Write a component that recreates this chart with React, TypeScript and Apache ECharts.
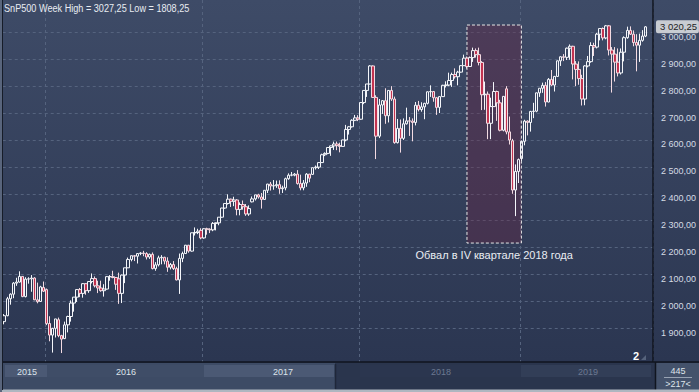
import React, { useEffect, useRef } from "react";
import * as echarts from "echarts";

// ---------- DATA ----------
const TITLE = "SnP500 Week High = 3027,25 Low = 1808,25";
const FIRST_WEEK_UTC = Date.UTC(2015, 8, 28); // Monday of the first weekly candle
const EXTRA_SLOTS = 2; // empty slots right of the last candle

// weekly candles: [open, high, low, close]
const w2015: number[][] = [
  [1925, 1953, 1915, 1947], [1947, 2017, 1945, 2010], [2010, 2030, 1988, 2027], [2027, 2072, 2012, 2068],
  [2068, 2088, 2058, 2072], [2072, 2112, 2070, 2093], [2093, 2094, 2016, 2018], [2018, 2090, 2015, 2083],
  [2083, 2090, 2066, 2084], [2084, 2098, 2036, 2087], [2087, 2090, 2005, 2006], [2006, 2070, 1993, 1999],
  [2000, 2058, 1998, 2054], [2052, 2074, 2035, 2038],
];
const w2016: number[][] = [
  [2044, 2048, 1912, 1918], [1918, 1945, 1852, 1875], [1875, 1902, 1810, 1900], [1900, 1935, 1866, 1935],
  [1932, 1940, 1867, 1873], [1873, 1876, 1808.25, 1860], [1862, 1925, 1860, 1913], [1913, 1947, 1885, 1944],
  [1944, 2004, 1925, 1994], [1994, 2016, 1962, 2016], [2016, 2046, 1998, 2044], [2044, 2050, 2016, 2030],
  [2030, 2068, 2014, 2066], [2066, 2068, 2025, 2040], [2040, 2076, 2032, 2074], [2074, 2104, 2067, 2085],
  [2085, 2093, 2052, 2058], [2058, 2077, 2031, 2050], [2050, 2077, 2036, 2040], [2040, 2064, 2018, 2046],
  [2046, 2094, 2044, 2092], [2092, 2098, 2077, 2092], [2092, 2114, 2086, 2089], [2089, 2089, 2043, 2064],
  [2084, 2107, 1991, 2030], [2030, 2100, 1994, 2098], [2098, 2125, 2068, 2125], [2125, 2163, 2124, 2156],
  [2156, 2170, 2149, 2170], [2170, 2172, 2150, 2168], [2168, 2178, 2141, 2178], [2178, 2183, 2172, 2180],
  [2180, 2188, 2168, 2178], [2178, 2183, 2156, 2165], [2165, 2178, 2158, 2175], [2175, 2182, 2119, 2122],
  [2122, 2146, 2114, 2136], [2136, 2170, 2130, 2162], [2162, 2172, 2138, 2164], [2164, 2166, 2138, 2150],
  [2150, 2164, 2110, 2127], [2127, 2143, 2119, 2137], [2137, 2150, 2117, 2122], [2122, 2129, 2078, 2080],
  [2080, 2178, 2028, 2160], [2160, 2185, 2146, 2178], [2178, 2210, 2177, 2209], [2209, 2210, 2181, 2187],
  [2187, 2256, 2185, 2255], [2255, 2275, 2245, 2256], [2256, 2270, 2250, 2261], [2264, 2272, 2231, 2236],
];
const w2017: number[][] = [
  [2236, 2272, 2233, 2270], [2270, 2274, 2248, 2268], [2268, 2272, 2254, 2266], [2266, 2295, 2261, 2290],
  [2290, 2293, 2264, 2292], [2292, 2313, 2283, 2313], [2313, 2348, 2311, 2347], [2347, 2364, 2344, 2364],
  [2364, 2398, 2360, 2380], [2380, 2382, 2351, 2372], [2372, 2389, 2354, 2377], [2377, 2380, 2320, 2342],
  [2342, 2368, 2320, 2360], [2360, 2375, 2341, 2352], [2352, 2362, 2318, 2325], [2325, 2357, 2318, 2345],
  [2370, 2390, 2368, 2381], [2381, 2396, 2375, 2396], [2396, 2400, 2382, 2388], [2388, 2403, 2345, 2379],
  [2379, 2413, 2377, 2413], [2413, 2437, 2403, 2436], [2436, 2444, 2412, 2429], [2429, 2451, 2415, 2430],
  [2430, 2449, 2422, 2434], [2434, 2450, 2400, 2419], [2419, 2430, 2403, 2422], [2422, 2460, 2413, 2456],
  [2456, 2476, 2452, 2469], [2469, 2481, 2465, 2470], [2469, 2477, 2465, 2473], [2473, 2488, 2434, 2438],
  [2438, 2471, 2413, 2422], [2422, 2451, 2413, 2440], [2440, 2477, 2426, 2473], [2473, 2474, 2443, 2458],
  [2472, 2497, 2470, 2497], [2497, 2505, 2490, 2499], [2499, 2516, 2492, 2516], [2516, 2549, 2515, 2545],
  [2545, 2554, 2540, 2550], [2550, 2572, 2547, 2572], [2572, 2579, 2541, 2578], [2578, 2594, 2563, 2585],
  [2585, 2594, 2562, 2579], [2579, 2590, 2554, 2576], [2576, 2601, 2575, 2600], [2600, 2656, 2595, 2639],
  [2639, 2652, 2620, 2649], [2649, 2677, 2646, 2673], [2673, 2693, 2670, 2682], [2682, 2692, 2670, 2677],
];
const w2018: number[][] = [
  [2677, 2740, 2675, 2739], [2739, 2785, 2733, 2784], [2784, 2808, 2760, 2808], [2808, 2878, 2806, 2875],
  [2875, 2877, 2756, 2758], [2758, 2766, 2529, 2614], [2614, 2752, 2607, 2730], [2730, 2748, 2697, 2746],
  [2746, 2792, 2660, 2690], [2690, 2785, 2665, 2784], [2784, 2800, 2745, 2752], [2752, 2761, 2586, 2590],
  [2590, 2678, 2587, 2643], [2643, 2676, 2553, 2606], [2606, 2680, 2600, 2660], [2660, 2720, 2657, 2671],
  [2671, 2685, 2615, 2670], [2670, 2680, 2595, 2665], [2665, 2741, 2654, 2729], [2729, 2745, 2706, 2713],
  [2713, 2740, 2705, 2723], [2723, 2738, 2677, 2736], [2736, 2780, 2732, 2779], [2779, 2803, 2760, 2780],
  [2780, 2782, 2742, 2757], [2757, 2760, 2693, 2721], [2721, 2763, 2700, 2761], [2761, 2805, 2760, 2803],
  [2803, 2818, 2795, 2804], [2804, 2850, 2800, 2821], [2821, 2850, 2797, 2843], [2843, 2866, 2828, 2835],
  [2835, 2857, 2803, 2852], [2852, 2878, 2850, 2876], [2876, 2917, 2875, 2904], [2904, 2910, 2865, 2873],
  [2873, 2910, 2872, 2906], [2906, 2943, 2890, 2932], [2932, 2940, 2906, 2917], [2917, 2943, 2877, 2888],
  [2888, 2893, 2711, 2768], [2768, 2817, 2712, 2770], [2770, 2780, 2603, 2662], [2662, 2757, 2603, 2724],
  [2724, 2815, 2723, 2780], [2780, 2783, 2671, 2738], [2738, 2749, 2632, 2636], [2636, 2763, 2632, 2762],
  [2790, 2800, 2621, 2630], [2630, 2687, 2583, 2600], [2597, 2604, 2400, 2414], [2414, 2509, 2317, 2483],
  [2483, 2531, 2440, 2527],
];
const w2019: number[][] = [
  [2531, 2597, 2522, 2595], [2595, 2675, 2580, 2670], [2670, 2673, 2617, 2665], [2665, 2708, 2631, 2706],
  [2706, 2738, 2681, 2707], [2707, 2776, 2703, 2775], [2775, 2792, 2760, 2792], [2792, 2813, 2775, 2803],
  [2803, 2815, 2724, 2741], [2741, 2830, 2740, 2825], [2825, 2860, 2800, 2804], [2804, 2838, 2780, 2836],
  [2836, 2895, 2835, 2894], [2894, 2911, 2875, 2909], [2909, 2919, 2893, 2907], [2907, 2943, 2897, 2941],
  [2941, 2955, 2898, 2948], [2948, 2950, 2825, 2882], [2882, 2893, 2800, 2862], [2862, 2892, 2805, 2828],
  [2828, 2842, 2728, 2752], [2752, 2878, 2729, 2875], [2875, 2912, 2870, 2891], [2891, 2963, 2887, 2951],
  [2951, 2961, 2912, 2945], [2945, 2998, 2940, 2993], [2993, 3015, 2970, 3014], [3014, 3018, 2970, 2979],
  [2979, 3027.25, 2974, 3024], [3024, 3027, 2914, 2934], [2934, 2945, 2776, 2919], [2919, 2945, 2817, 2889],
  [2889, 2940, 2836, 2849], [2849, 2940, 2843, 2926], [2926, 2985, 2892, 2980], [2980, 3021, 2976, 3007],
  [3007, 3022, 2990, 2993], [2993, 3007, 2948, 2962], [2962, 2993, 2855, 2952], [2952, 2995, 2890, 2970],
  [2970, 3008, 2965, 2986], [2986, 3023, 2982, 3020.25],
];

const yearNames = ["2015", "2016", "2017", "2018", "2019"];
const yearWeeks = [w2015, w2016, w2017, w2018, w2019];

// visible price range of the plot and the labelled ticks
const VIEW_MIN = 1775;
const VIEW_MAX = 3120;
const Y_STEP = 100;
const Y_LABEL_LOW = 1900;
const Y_LABEL_HIGH = 3000;

const LAST_PRICE = 3020.25;
const LAST_PRICE_TEXT = "3 020,25";

const CRASH_LABEL = "Обвал в IV квартале 2018 года";
const CRASH_FROM = "2018-09-03";
const CRASH_TO = "2019-01-07";
const CRASH_TOP = 3027;
const CRASH_BOTTOM = 2217;

const NAV_COUNT_TOP = "445";
const NAV_COUNT_BOTTOM = ">217<";
const PANE_NUMBER = "2";

// ---------- BUILD ----------
const allWeeks = yearWeeks.flat();
const categories: string[] = [];
for (let i = 0; i < allWeeks.length + EXTRA_SLOTS; i++) {
  categories.push(i < allWeeks.length ? new Date(FIRST_WEEK_UTC + i * 7 * 86400000).toISOString().slice(0, 10) : `+${i}`);
}
const candleData = allWeeks.map(([o, h, l, c]) => [o, c, l, h]);
const yearStarts: number[] = [];
{
  let acc = 0;
  yearWeeks.forEach((w, i) => {
    if (i > 0) yearStarts.push(acc);
    acc += w.length;
  });
}

const GRID = "#55637e";
// ticks the axis produces: VIEW_MIN, every 100 in between, VIEW_MAX
const tickValues: number[] = [VIEW_MIN];
for (let v = Math.ceil(VIEW_MIN / Y_STEP) * Y_STEP; v <= VIEW_MAX; v += Y_STEP) {
  if (v !== VIEW_MIN) tickValues.push(v);
}
if (tickValues[tickValues.length - 1] !== VIEW_MAX) tickValues.push(VIEW_MAX);
const splitColors = tickValues.map((v) => (v >= Y_LABEL_LOW && v <= Y_LABEL_HIGH ? GRID : "rgba(0,0,0,0)"));

const fmtPrice = (v: number) => {
  if (v < Y_LABEL_LOW || v > Y_LABEL_HIGH || v % Y_STEP !== 0) return "";
  const t = Math.floor(v / 1000);
  const r = Math.round(v % 1000);
  return `${t} ${String(r).padStart(3, "0")},00`;
};

const SANS = "Liberation Sans";

const txt = (text: string, x: number, y: number, fill: string, fontSize: number, extra: any = {}) => ({
  type: "text",
  x,
  y,
  z: 120,
  silent: true,
  scaleX: extra.scaleX || 1,
  style: {
    text,
    fill,
    fontSize,
    fontFamily: SANS,
    fontWeight: extra.fontWeight || "normal",
    align: extra.align || "center",
    textAlign: extra.align || "center",
    verticalAlign: extra.valign || "middle",
    textVerticalAlign: extra.valign || "middle",
  },
});

const rect = (x: number, y: number, w: number, h: number, fill: string, z = 110) => ({
  type: "rect",
  z,
  silent: true,
  shape: { x, y, width: w, height: h },
  style: { fill },
});

const line = (x1: number, y1: number, x2: number, y2: number, stroke: string, lineWidth = 1, z = 115) => ({
  type: "line",
  z,
  silent: true,
  shape: { x1, y1, x2, y2 },
  style: { stroke, lineWidth },
});

const yearBand = [
  { x: 5, w: 42, fill: "#4b5974", color: "#dde3ea", cx: 27 },
  { x: 47, w: 157, fill: "#3f4d67", color: "#dde3ea", cx: 126 },
  { x: 204, w: 130, fill: "#4b5974", color: "#dde3ea", cx: 283 },
  { x: 360, w: 161, fill: "#2b364f", color: "#6c7991", cx: 441 },
  { x: 521, w: 130, fill: "#323e57", color: "#6c7991", cx: 588 },
];

const graphics: any[] = [
  rect(0, 362, 699, 30, "#2a354d"),
  rect(3, 363, 332, 27, "#3d4b65"),
  ...yearBand.map((b) => rect(b.x, 365, b.w, 12, b.fill, 111)),
  ...yearBand.map((b, i) => txt(yearNames[i], b.cx, 371.5, b.color, 9)),
  line(335.5, 364, 335.5, 389, "#1f2739", 1.5),
  rect(656, 363, 43, 27, "#44526b", 112),
  txt(NAV_COUNT_TOP, 678, 371, "#dfe4ea", 9),
  line(664, 377.5, 692, 377.5, "#98a3b3", 1),
  txt(NAV_COUNT_BOTTOM, 678, 384, "#dfe4ea", 9),
  line(0, 362, 699, 362, "#10151f", 1.5),
  line(655.5, 362, 655.5, 390, "#10151f", 1.5),
  rect(0, 389.5, 699, 2.5, "#aeb6c0", 116),
  rect(0, 0, 2, 392, "#59657c", 116),
  line(2.5, 0, 2.5, 390, "#161c28", 1, 117),
  txt(PANE_NUMBER, 636, 356, "#ffffff", 11, { fontWeight: "bold" }),
  {
    type: "polygon",
    z: 120,
    silent: true,
    shape: { points: [[641, 360], [646, 355], [646, 360]] },
    style: { fill: "#56637c" },
  },
  txt(TITLE, 4, 3, "#e8ecf2", 11, { align: "left", valign: "top", scaleX: 0.83 }),
];

const option: any = {
  animation: false,
  backgroundColor: new echarts.graphic.LinearGradient(0, 0, 0, 1, [
    { offset: 0, color: "#3e4b67" },
    { offset: 0.92, color: "#2b3651" },
    { offset: 1, color: "#2b3651" },
  ]),
  grid: { left: 2.73, right: 44.4, top: 0, bottom: 30 },
  xAxis: {
    type: "category",
    data: categories,
    boundaryGap: true,
    axisLine: { show: false },
    axisTick: { show: false },
    axisLabel: { show: false },
    splitLine: {
      show: true,
      interval: (index: number) => yearStarts.includes(index),
      lineStyle: { color: GRID, type: [3, 3], width: 1 },
    },
  },
  yAxis: {
    type: "value",
    position: "right",
    min: VIEW_MIN,
    max: VIEW_MAX,
    splitNumber: 13,
    axisLine: { show: true, lineStyle: { color: "#10151f", width: 1.5 } },
    axisTick: { show: false },
    axisLabel: {
      formatter: fmtPrice,
      color: "#d5dbe4",
      fontSize: 9,
      fontFamily: SANS,
      margin: 8,
      verticalAlign: "top",
      showMinLabel: false,
      showMaxLabel: false,
    },
    splitLine: { show: true, lineStyle: { color: splitColors, type: [3, 3], width: 1 } },
  },
  series: [
    {
      type: "candlestick",
      data: candleData,
      barWidth: 3,
      silent: true,
      itemStyle: {
        color: "rgba(0,0,0,0)",
        color0: "#c23350",
        borderColor: "#f4f6fa",
        borderColor0: "#f3dbe2",
        borderWidth: 1,
      },
      markArea: {
        silent: true,
        itemStyle: {
          color: "rgba(112,30,62,0.32)",
          borderColor: "#e6e6e6",
          borderWidth: 1,
          borderType: [3, 2],
        },
        label: {
          show: true,
          position: "bottom",
          distance: 6,
          color: "#e8ecf2",
          fontSize: 11,
          fontFamily: SANS,
        },
        data: [[
          { name: CRASH_LABEL, xAxis: CRASH_FROM, yAxis: CRASH_TOP },
          { xAxis: CRASH_TO, yAxis: CRASH_BOTTOM },
        ]],
      },
      markLine: {
        silent: true,
        symbol: ["none", "none"],
        lineStyle: { color: "rgba(0,0,0,0)", width: 0 },
        label: {
          show: true,
          position: "end",
          distance: 3,
          formatter: LAST_PRICE_TEXT,
          backgroundColor: "#c8ccd2",
          color: "#1d1d1d",
          padding: [2, 2, 1, 4],
          borderRadius: 2,
          fontSize: 9.5,
          fontFamily: SANS,
        },
        data: [{ yAxis: LAST_PRICE }],
      },
    },
  ],
  graphic: { elements: graphics },
};

export default function App() {
  const ref = useRef<HTMLDivElement>(null);
  useEffect(() => {
    if (!ref.current) return;
    const chart = echarts.init(ref.current, null, { renderer: "svg", width: 699, height: 392 });
    chart.setOption(option);
    return () => chart.dispose();
  }, []);
  return <div ref={ref} style={{ position: "fixed", left: 0, top: 0, width: 699, height: 392 }} />;
}
